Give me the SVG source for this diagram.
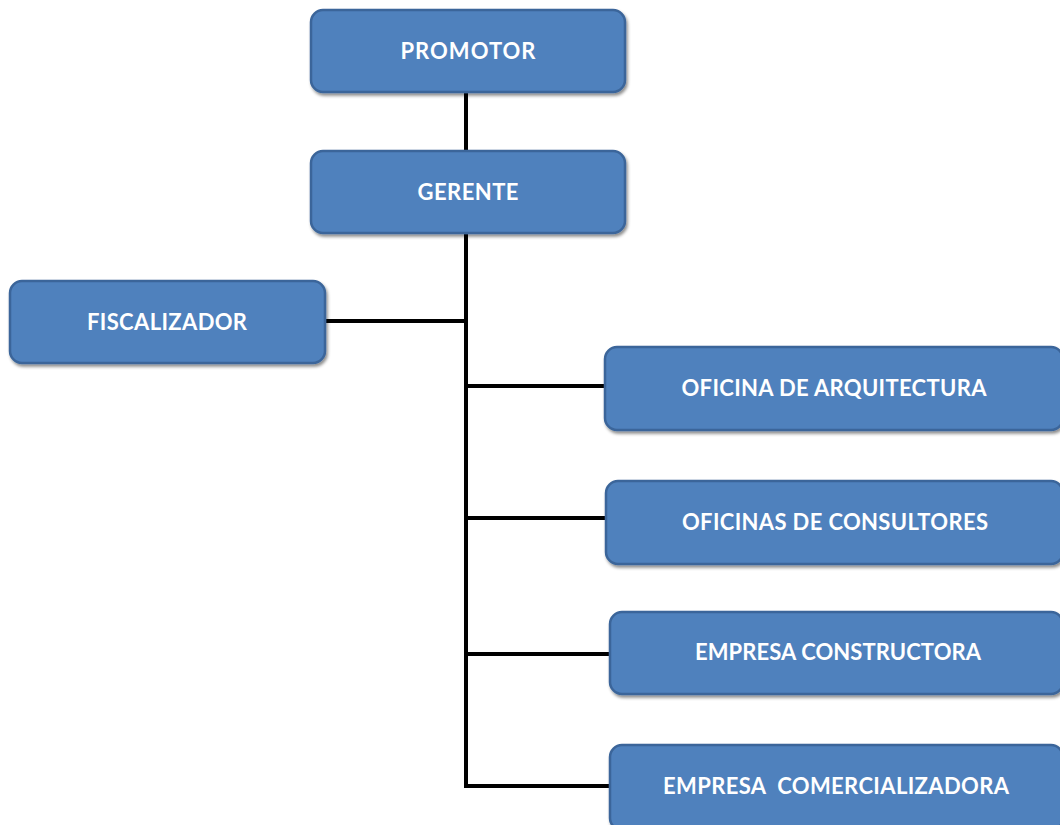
<svg xmlns="http://www.w3.org/2000/svg" width="1060" height="825" viewBox="0 0 1060 825">
  <style>
    .box { fill: #4f81bd; stroke: #3b659a; stroke-width: 2.5; filter: url(#shadow); }
    .lbl { fill: #ffffff; font-family: Lato, "Open Sans", "Liberation Sans", sans-serif; font-weight: bold; font-size: 22px; text-anchor: middle; }
    .wire { stroke: #000000; stroke-width: 4; fill: none; stroke-linecap: square; }
  </style>
  <defs>
    <filter id="shadow" x="-5%" y="-10%" width="115%" height="130%">
      <feDropShadow dx="1.5" dy="2.5" stdDeviation="1.5" flood-color="#000000" flood-opacity="0.45"/>
    </filter>
  </defs>
  <rect width="1060" height="825" fill="#ffffff"/>

  <!-- connectors -->
  <g id="connectors">
    <line class="wire" x1="466" y1="93" x2="466" y2="149"/>
    <line class="wire" x1="466" y1="234" x2="466" y2="786"/>
    <line class="wire" x1="326" y1="321" x2="466" y2="321"/>
    <line class="wire" x1="466" y1="386" x2="604" y2="386"/>
    <line class="wire" x1="466" y1="518" x2="604" y2="518"/>
    <line class="wire" x1="466" y1="654" x2="608" y2="654"/>
    <line class="wire" x1="466" y1="786" x2="608" y2="786"/>
  </g>

  <g id="promotor">
    <rect class="box" x="311" y="10" width="314" height="82" rx="12"/>
    <text class="lbl" x="468" y="59" textLength="135" lengthAdjust="spacing">PROMOTOR</text>
  </g>
  <g id="gerente">
    <rect class="box" x="311" y="151" width="314" height="82" rx="12"/>
    <text class="lbl" x="468" y="200" textLength="101" lengthAdjust="spacing">GERENTE</text>
  </g>
  <g id="fiscalizador">
    <rect class="box" x="10" y="281" width="315" height="82" rx="12"/>
    <text class="lbl" x="167" y="330" textLength="160" lengthAdjust="spacing">FISCALIZADOR</text>
  </g>
  <g id="oficina-arquitectura">
    <rect class="box" x="605" y="347" width="458" height="83" rx="12"/>
    <text class="lbl" x="834" y="396" textLength="305" lengthAdjust="spacing">OFICINA DE ARQUITECTURA</text>
  </g>
  <g id="oficinas-consultores">
    <rect class="box" x="606" y="481" width="457" height="83" rx="12"/>
    <text class="lbl" x="835" y="530" textLength="306" lengthAdjust="spacing">OFICINAS DE CONSULTORES</text>
  </g>
  <g id="empresa-constructora">
    <rect class="box" x="610" y="612" width="453" height="82" rx="12"/>
    <text class="lbl" x="838" y="660" textLength="286" lengthAdjust="spacing">EMPRESA CONSTRUCTORA</text>
  </g>
  <g id="empresa-comercializadora">
    <rect class="box" x="610" y="745" width="453" height="85" rx="12"/>
    <text class="lbl" x="836" y="794" textLength="346" lengthAdjust="spacing">EMPRESA&#160; COMERCIALIZADORA</text>
  </g>
</svg>
